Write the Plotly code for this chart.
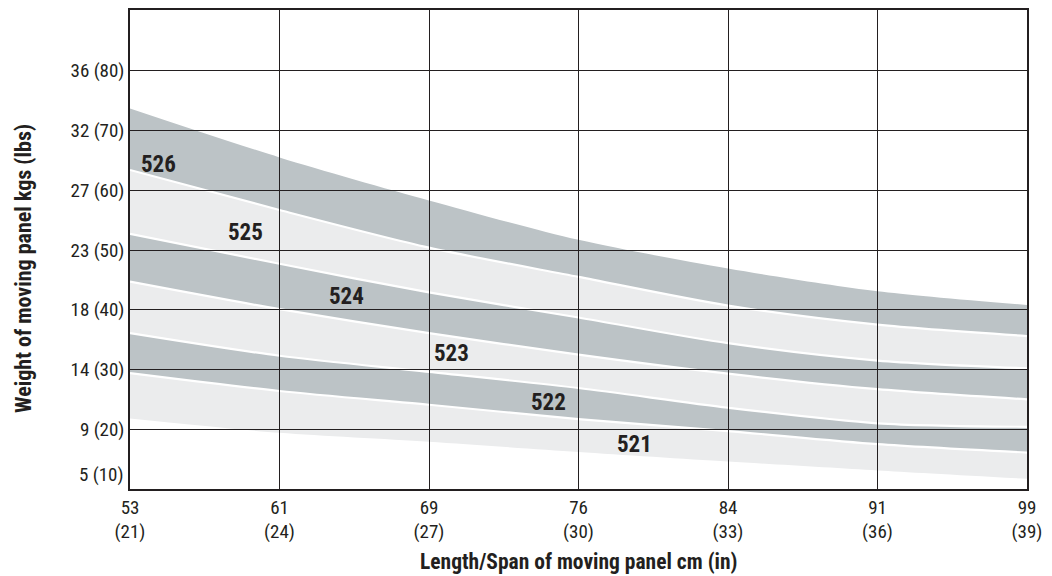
import plotly.graph_objects as go

# x positions (inches) and tick labels
span_in = [21, 24, 27, 30, 33, 36, 39]
span_cm = [53, 61, 69, 76, 84, 91, 99]

# y ticks (lbs) and labels
weight_lbs = [20, 30, 40, 50, 60, 70, 80]
weight_kg = [9, 14, 18, 23, 27, 32, 36]

# band boundaries (lbs), top to bottom
b_526_top = [73.7, 65.5, 58.3, 51.7, 46.9, 43.1, 40.8]
b_526_525 = [63.4, 56.7, 50.4, 45.5, 40.7, 37.5, 35.6]
b_525_524 = [52.7, 47.7, 42.9, 38.7, 34.4, 31.5, 30.2]
b_524_523 = [44.7, 40.1, 36.1, 32.5, 29.3, 26.7, 25.0]
b_523_522 = [36.1, 32.3, 29.6, 26.9, 23.6, 21.0, 20.4]
b_522_521 = [29.4, 26.4, 24.1, 21.7, 19.7, 17.5, 16.1]
b_521_bot = [21.8, 19.4, 17.9, 16.2, 14.6, 13.1, 11.7]

models = ["526", "525", "524", "523", "522", "521"]
label_x = [21.57, 23.32, 25.35, 27.45, 29.4, 31.13]
label_y = [64.3, 52.9, 42.3, 32.6, 24.45, 17.5]

bounds = [b_526_top, b_526_525, b_525_524, b_524_523, b_523_522, b_522_521, b_521_bot]

DARK = "#bcc3c6"
LIGHT = "#ebeced"
INK = "#231f20"
FONT = "Liberation Sans Narrow, Roboto Condensed, DejaVu Sans Condensed, Arial Narrow, sans-serif"

fig = go.Figure()

# bands: band i between bounds[i] (upper) and bounds[i+1] (lower)
for i in range(len(models) - 1, -1, -1):
    color = DARK if i % 2 == 0 else LIGHT
    fig.add_trace(go.Scatter(x=span_in, y=bounds[i + 1], mode="lines",
                             line=dict(width=0, shape="spline", smoothing=0.8),
                             hoverinfo="skip", showlegend=False))
    fig.add_trace(go.Scatter(x=span_in, y=bounds[i], mode="lines",
                             line=dict(width=0, shape="spline", smoothing=0.8),
                             fill="tonexty", fillcolor=color,
                             name=models[i], showlegend=False))

# white separator lines
for b in bounds[1:-1]:
    fig.add_trace(go.Scatter(x=span_in, y=b, mode="lines",
                             line=dict(width=2.2, color="white", shape="spline", smoothing=0.8),
                             hoverinfo="skip", showlegend=False))

# model labels
for m, lx, ly in zip(models, label_x, label_y):
    fig.add_annotation(x=lx, y=ly, text=m, showarrow=False,
                       font=dict(family=FONT, size=23, color=INK, weight="bold"))

fig.add_annotation(xref="paper", yref="y", x=0, y=10, text="5 (10)", showarrow=False,
                   xanchor="right", yanchor="bottom", xshift=-4, yshift=1,
                   font=dict(family=FONT, size=19, color=INK))

fig.add_annotation(xref="paper", yref="paper", x=-0.1181, y=0.4595,
                   text="Weight of moving panel kgs (lbs)", textangle=-90, showarrow=False,
                   xanchor="center", yanchor="middle",
                   font=dict(family=FONT, size=22, color=INK, weight="bold"))
fig.add_annotation(xref="paper", yref="paper", x=0.5, y=-0.1515,
                   text="Length/Span of moving panel cm (in)", showarrow=False,
                   xanchor="center", yanchor="middle",
                   font=dict(family=FONT, size=21.5, color=INK, weight="bold"))

fig.update_xaxes(range=[21, 39], tickvals=span_in,
                 ticktext=[f"{c}<br>({i})" for c, i in zip(span_cm, span_in)],
                 showgrid=False, zeroline=False, showline=True, mirror=True,
                 linecolor=INK, linewidth=1.5,
                 ticks="inside", ticklen=481, tickwidth=1.3, tickcolor=INK,
                 layer="above traces",
                 tickfont=dict(family=FONT, size=19, color=INK))
fig.update_yaxes(range=[10, 90.17], tickvals=weight_lbs,
                 ticktext=[f"{k} ({l})" for k, l in zip(weight_kg, weight_lbs)],
                 showgrid=False, zeroline=False, showline=True, mirror=True,
                 linecolor=INK, linewidth=1.5,
                 ticks="inside", ticklen=897, tickwidth=1.3, tickcolor=INK,
                 layer="above traces",
                 tickfont=dict(family=FONT, size=19, color=INK))

fig.update_layout(width=1052, height=576, margin=dict(l=130, r=25, t=8, b=87),
                  plot_bgcolor="white", paper_bgcolor="white", showlegend=False)

fig.write_html("out.html", config={"displayModeBar": False},
               post_script="document.body.style.margin='0';document.body.style.overflow='hidden';")
